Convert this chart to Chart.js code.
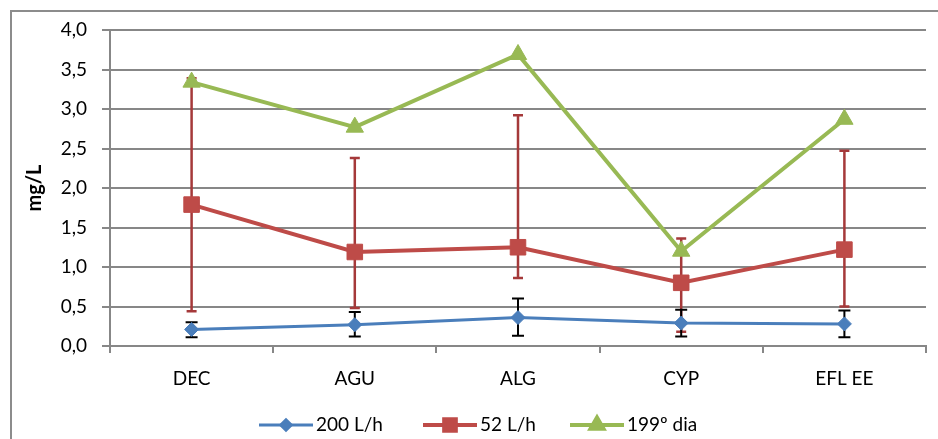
<!DOCTYPE html>
<html>
<head>
<meta charset="utf-8">
<script src="https://cdn.jsdelivr.net/npm/chart.js@4"></script>
<style>
  html, body { margin: 0; padding: 0; background: #fff; }
  #wrap { width: 938px; height: 439px; }
</style>
</head>
<body>
<div id="wrap"><canvas id="chart"></canvas></div>
<script>
// data
const categories = ['DEC', 'AGU', 'ALG', 'CYP', 'EFL EE'];
const seriesNames = ['200 L/h', '52 L/h', '199º dia'];
const flow200 = [0.21, 0.27, 0.36, 0.29, 0.28];
const flow200Low = [0.11, 0.12, 0.13, 0.12, 0.11];
const flow200High = [0.30, 0.43, 0.60, 0.46, 0.45];
const flow52 = [1.79, 1.19, 1.25, 0.80, 1.22];
const flow52Low = [0.44, 0.48, 0.86, 0.18, 0.50];
const flow52High = [3.39, 2.38, 2.92, 1.36, 2.47];
const day199 = [3.34, 2.77, 3.69, 1.20, 2.87];
const yTicks = [0, 0.5, 1, 1.5, 2, 2.5, 3, 3.5, 4];

const FONT = 'Lato, "Liberation Sans", sans-serif';
const GRID = '#878787';

// error bars, drawn with the y scale
const errorBars = {
    id: 'errorBars',
    beforeDatasetsDraw(chart) {
        const ctx = chart.ctx;
        const x = chart.scales.x, y = chart.scales.y;
        const sets = [
            { lo: flow52Low, hi: flow52High, color: '#A5393A', cap: 5, w: 2.5 },
            { lo: flow200Low, hi: flow200High, color: '#000000', cap: 6, w: 2 }
        ];
        ctx.save();
        sets.forEach(s => {
            ctx.strokeStyle = s.color;
            ctx.lineWidth = s.w;
            categories.forEach((c, i) => {
                const px = x.getPixelForValue(i);
                const top = y.getPixelForValue(s.hi[i]);
                const bot = y.getPixelForValue(s.lo[i]);
                ctx.beginPath();
                ctx.moveTo(px, top); ctx.lineTo(px, bot);
                ctx.moveTo(px - s.cap, top); ctx.lineTo(px + s.cap, top);
                ctx.moveTo(px - s.cap, bot); ctx.lineTo(px + s.cap, bot);
                ctx.stroke();
            });
        });
        ctx.restore();
    }
};

// outer frame + legend with line and marker
const frameAndLegend = {
    id: 'frameAndLegend',
    beforeDraw(chart) {
        const ctx = chart.ctx;
        ctx.save();
        ctx.fillStyle = '#fff';
        ctx.fillRect(0, 0, chart.width, chart.height);
        ctx.strokeStyle = '#8c8c8c';
        ctx.lineWidth = 2;
        ctx.beginPath();
        ctx.moveTo(11, chart.height);
        ctx.lineTo(11, 11);
        ctx.lineTo(chart.width, 11);
        ctx.stroke();
        ctx.restore();
    },
    afterDraw(chart) {
        const ctx = chart.ctx;
        const starts = [259, 423, 570];
        const ly = 425;
        ctx.save();
        ctx.font = '19px ' + FONT;
        ctx.textBaseline = 'middle';
        chart.data.datasets.forEach((ds, i) => {
            const x0 = starts[i];
            ctx.strokeStyle = ds.borderColor;
            ctx.lineWidth = ds.borderWidth;
            ctx.beginPath();
            ctx.moveTo(x0, ly); ctx.lineTo(x0 + 54, ly);
            ctx.stroke();
            ctx.fillStyle = ds.borderColor;
            ctx.strokeStyle = ds.borderColor;
            Chart.helpers.drawPoint(ctx, {
                pointStyle: ds.pointStyle,
                radius: ds.pointRadius * 0.75,
                borderWidth: 1
            }, x0 + 27, ly);
            ctx.fillStyle = '#000';
            ctx.fillText(ds.label, x0 + 57, ly);
        });
        ctx.restore();
    }
};

function series(label, data, color, width, style, radius) {
    return {
        label: label,
        data: data,
        borderColor: color,
        backgroundColor: color,
        pointBackgroundColor: color,
        pointBorderColor: color,
        borderWidth: width,
        pointStyle: style,
        pointRadius: radius,
        pointBorderWidth: 1,
        tension: 0
    };
}

new Chart(document.getElementById('chart'), {
    type: 'line',
    data: {
        labels: categories,
        datasets: [
            series(seriesNames[0], flow200, '#4A7EBB', 3, 'rectRot', 7),
            series(seriesNames[1], flow52, '#BE4B48', 4, 'rect', 11),
            series(seriesNames[2], day199, '#98B954', 4, 'triangle', 10)
        ]
    },
    options: {
        responsive: true,
        maintainAspectRatio: false,
        animation: false,
        layout: { padding: { top: 30, right: 9, bottom: 0, left: 12 } },
        plugins: {
            legend: { display: false },
            tooltip: { enabled: false }
        },
        scales: {
            x: {
                offset: true,
                grid: {
                    offset: true,
                    drawOnChartArea: false,
                    drawTicks: true,
                    tickLength: 7,
                    color: GRID,
                    lineWidth: 2
                },
                border: { color: GRID, width: 2 },
                ticks: { color: '#000', font: { family: FONT, size: 19 }, padding: 14, maxRotation: 0 },
                afterFit(scale) { scale.height = 93; }
            },
            y: {
                min: 0,
                max: 4,
                afterBuildTicks(scale) { scale.ticks = yTicks.map(v => ({ value: v })); },
                grid: { color: GRID, lineWidth: 2, tickLength: 8 },
                border: { color: GRID, width: 2 },
                ticks: {
                    color: '#000',
                    font: { family: FONT, size: 19 },
                    padding: 15,
                    callback: v => v.toFixed(1).replace('.', ',')
                },
                title: {
                    display: true,
                    text: 'mg/L',
                    color: '#000',
                    font: { family: FONT, size: 20, weight: 'bold' },
                    padding: { top: 11, bottom: 0 }
                },
                afterFit(scale) { scale.width = 98; }
            }
        }
    },
    plugins: [errorBars, frameAndLegend]
});
</script>
</body>
</html>
